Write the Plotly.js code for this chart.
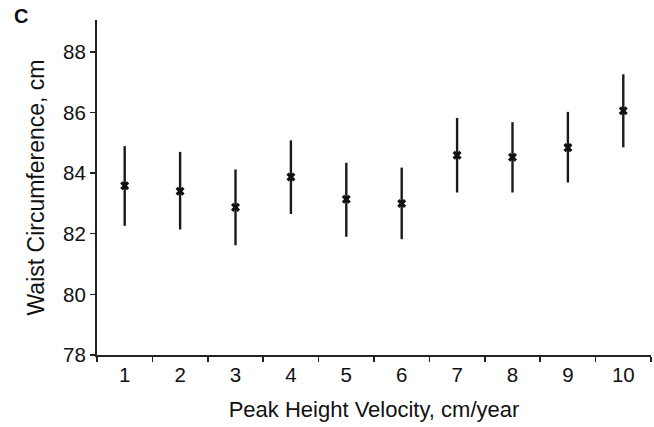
<!DOCTYPE html>
<html>
<head>
<meta charset="utf-8">
<script src="https://cdn.plot.ly/plotly-3.0.1.min.js"></script>
<style>html,body{margin:0;padding:0;background:#fff;}#chart{width:654px;height:427px;}</style>
</head>
<body>
<div id="chart"></div>
<script>
const categories = ['1','2','3','4','5','6','7','8','9','10'];
const means = [83.58, 83.40, 82.87, 83.87, 83.14, 83.00, 84.59, 84.52, 84.84, 86.06];
const upper = [84.89, 84.70, 84.12, 85.08, 84.34, 84.18, 85.82, 85.68, 86.02, 87.26];
const lower = [82.26, 82.14, 81.62, 82.65, 81.90, 81.82, 83.36, 83.36, 83.69, 84.85];
const yTicks = [78, 80, 82, 84, 86, 88];

const trace = {
  x: categories,
  y: means,
  type: 'scatter',
  mode: 'markers',
  marker: {symbol: 'x', size: 8, color: '#111'},
  error_y: {
    type: 'data', symmetric: false,
    array: upper.map((u, i) => u - means[i]),
    arrayminus: means.map((m, i) => m - lower[i]),
    color: '#1a1a1a', thickness: 2.4, width: 0
  },
  hoverinfo: 'x+y'
};

const fam = 'Liberation Sans, Arial, sans-serif';
const tickFont = {family: fam, size: 20.5, color: '#111'};
const titleFont = {family: fam, size: 22, color: '#111'};

const layout = {
  width: 654, height: 427,
  margin: {l: 97, r: 3, t: 20, b: 72},
  paper_bgcolor: '#fff', plot_bgcolor: '#fff',
  showlegend: false,
  font: tickFont,
  xaxis: {
    type: 'category',
    range: [-0.5, 9.5],
    tickson: 'boundaries',
    ticks: 'outside', ticklen: 5, tickwidth: 1.5, tickcolor: '#222',
    showline: true, linecolor: '#222', linewidth: 2,
    showgrid: false, zeroline: false,
    tickfont: tickFont,
    title: {text: 'Peak Height Velocity, cm/year', font: titleFont, standoff: 17}
  },
  yaxis: {
    range: [78, 89.05],
    tickvals: yTicks,
    ticktext: yTicks.map(String),
    ticks: 'outside', ticklen: 5, tickwidth: 1.5, tickcolor: '#222',
    showline: true, linecolor: '#222', linewidth: 2,
    showgrid: false, zeroline: false,
    tickfont: tickFont,
    title: {text: 'Waist Circumference, cm', font: {family: fam, size: 23, color: '#111'}, standoff: 12}
  },
  annotations: [{
    text: '<b>C</b>', xref: 'paper', yref: 'paper',
    x: -0.137, y: 1.012, xanchor: 'center', yanchor: 'middle', showarrow: false,
    font: {family: fam, size: 20, color: '#111'}
  }]
};

Plotly.newPlot('chart', [trace], layout, {displayModeBar: false, staticPlot: true});
</script>
</body>
</html>
